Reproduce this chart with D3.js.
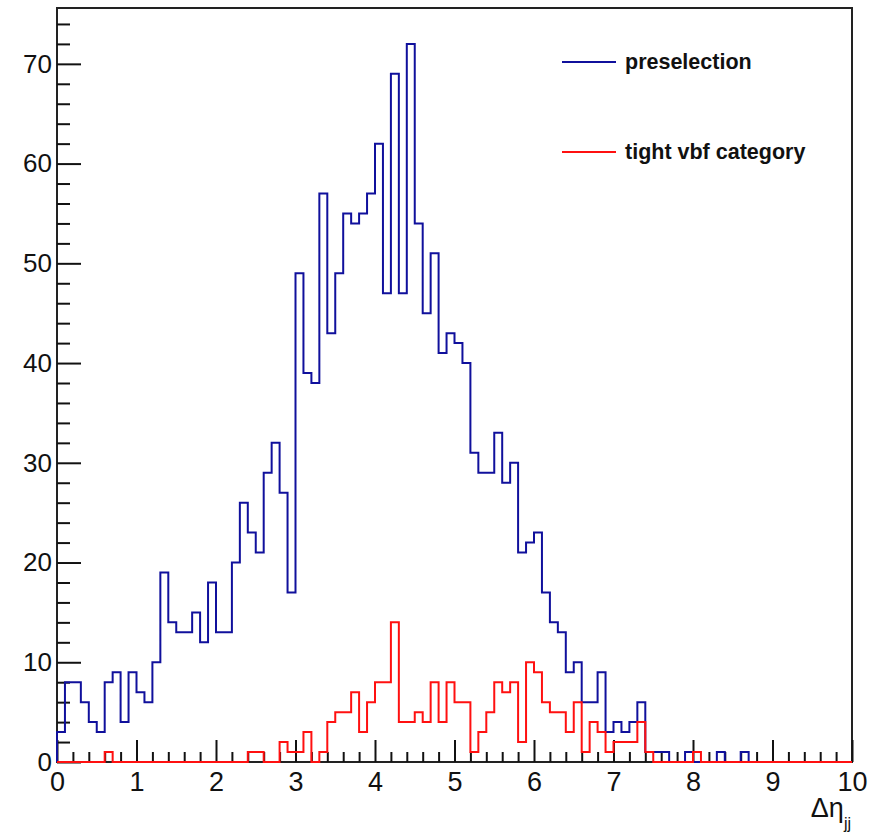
<!DOCTYPE html>
<html>
<head>
<meta charset="utf-8">
<script src="https://cdn.jsdelivr.net/npm/d3@7"></script>
<style>
  body { margin: 0; background: #fff; }
  svg { display: block; font-family: "Liberation Sans", Arial, Helvetica, sans-serif; }
</style>
</head>
<body>
<svg id="chart" width="886" height="840"></svg>
<script>
// Histogram binning (100 bins over 0..10)
const binLow = 0;
const binHigh = 10;
const nBins = 100;

// Entries per bin
const preselection = [
  3, 8, 8, 6, 4, 3, 8, 9, 4, 9,
  7, 6, 10, 19, 14, 13, 13, 15, 12, 18,
  13, 13, 20, 26, 23, 21, 29, 32, 27, 17,
  49, 39, 38, 57, 43, 49, 55, 54, 55, 57,
  62, 47, 69, 47, 72, 54, 45, 51, 41, 43,
  42, 40, 31, 29, 29, 33, 28, 30, 21, 22,
  23, 17, 14, 13, 9, 10, 6, 6, 9, 3,
  4, 3, 4, 6, 1, 1, 1, 0, 0, 1,
  0, 0, 0, 1, 0, 0, 1, 0, 0, 0,
  0, 0, 0, 0, 0, 0, 0, 0, 0, 0
];
const tightVbf = [
  0, 0, 0, 0, 0, 0, 1, 0, 0, 0,
  0, 0, 0, 0, 0, 0, 0, 0, 0, 0,
  0, 0, 0, 0, 1, 1, 0, 0, 2, 1,
  1, 3, 0, 1, 4, 5, 5, 7, 3, 6,
  8, 8, 14, 4, 4, 5, 4, 8, 4, 8,
  6, 6, 1, 3, 5, 8, 7, 8, 2, 10,
  9, 6, 5, 5, 3, 6, 1, 4, 3, 1,
  2, 2, 2, 4, 1, 0, 0, 0, 0, 0,
  1, 0, 0, 0, 0, 0, 0, 0, 0, 0,
  0, 0, 0, 0, 0, 0, 0, 0, 0, 0
];

const seriesNames = ['preselection', 'tight vbf category'];
const seriesColors = ['#10109c', '#ff1010'];
const xTicks = [0, 1, 2, 3, 4, 5, 6, 7, 8, 9, 10];
const yTicks = [0, 10, 20, 30, 40, 50, 60, 70];
const yMax = 75.6;

const svg = d3.select('#chart');

const margin = { top: 8, right: 34, bottom: 78, left: 57 };
const width = 886 - margin.left - margin.right;
const height = 840 - margin.top - margin.bottom;

const main = svg.append('g')
  .attr('transform', `translate(${margin.left},${margin.top})`);

// Scalers
const x = d3.scaleLinear().domain([binLow, binHigh]).range([0, width]);
const y = d3.scaleLinear().domain([0, yMax]).range([height, 0]);

// Frame
main.append('rect')
  .attr('x', 0).attr('y', 0)
  .attr('width', width).attr('height', height)
  .attr('fill', 'none')
  .attr('stroke', '#222')
  .attr('stroke-width', 2);

// Axes: major ticks with labels, minor ticks without
const xMinor = d3.range(0, 50).map(i => i * 0.2).filter(v => !xTicks.includes(Math.round(v * 10) / 10));
const yMinor = d3.range(0, 38).map(i => i * 2).filter(v => v % 10 !== 0 && v < yMax);

main.append('g')
  .attr('class', 'axis axis-x')
  .attr('transform', `translate(0,${height})`)
  .call(d3.axisBottom(x).tickValues(xTicks).tickSizeInner(-22).tickSizeOuter(0).tickPadding(10).tickFormat(d3.format('d')));

main.append('g')
  .attr('class', 'axis axis-x-minor')
  .attr('transform', `translate(0,${height})`)
  .call(d3.axisBottom(x).tickValues(xMinor).tickSizeInner(-10).tickSizeOuter(0).tickFormat(''));

main.append('g')
  .attr('class', 'axis axis-y')
  .call(d3.axisLeft(y).tickValues(yTicks).tickSizeInner(-24).tickSizeOuter(0).tickPadding(5).tickFormat(d3.format('d')));

main.append('g')
  .attr('class', 'axis axis-y-minor')
  .call(d3.axisLeft(y).tickValues(yMinor).tickSizeInner(-13).tickSizeOuter(0).tickFormat(''));

main.selectAll('.axis .domain').remove();
main.selectAll('.axis line').attr('stroke', '#111').attr('stroke-width', 2);
main.selectAll('.axis-x text')
  .attr('font-size', 27)
  .attr('font-family', '"Liberation Sans", Arial, sans-serif')
  .attr('fill', '#111');
main.selectAll('.axis-y text')
  .attr('font-size', 26)
  .attr('font-family', '"Liberation Sans", Arial, sans-serif')
  .attr('fill', '#111');

// Histogram outlines
const binWidth = (binHigh - binLow) / nBins;
const stepPoints = values => {
  const pts = [[binLow, 0]];
  values.forEach((v, i) => {
    pts.push([binLow + i * binWidth, v]);
    pts.push([binLow + (i + 1) * binWidth, v]);
  });
  pts.push([binHigh, 0]);
  return pts;
};

const line = d3.line()
  .x(d => x(d[0]))
  .y(d => y(d[1]));

[preselection, tightVbf].forEach((values, k) => {
  main.append('path')
    .attr('class', 'hist')
    .attr('d', line(stepPoints(values)))
    .attr('fill', 'none')
    .attr('stroke', seriesColors[k])
    .attr('stroke-width', 2)
    .attr('stroke-linejoin', 'miter');
});

// Legend
const legend = svg.append('g').attr('class', 'legend');
const legendY = [62, 152];
seriesNames.forEach((name, k) => {
  legend.append('line')
    .attr('x1', 562).attr('x2', 616)
    .attr('y1', legendY[k]).attr('y2', legendY[k])
    .attr('stroke', seriesColors[k])
    .attr('stroke-width', 2);
  legend.append('text')
    .attr('x', 625)
    .attr('y', legendY[k])
    .attr('dy', '0.33em')
    .attr('font-size', 21.5)
    .attr('font-weight', 'bold')
    .attr('fill', '#111')
    .text(name);
});

// Axis title
const title = svg.append('text')
  .attr('x', 851)
  .attr('y', 817)
  .attr('text-anchor', 'end')
  .attr('fill', '#111')
  .attr('font-size', 27);
title.append('tspan').text('Δη');
title.append('tspan')
  .attr('font-size', 16)
  .attr('dy', 12)
  .text('jj');
</script>
</body>
</html>
